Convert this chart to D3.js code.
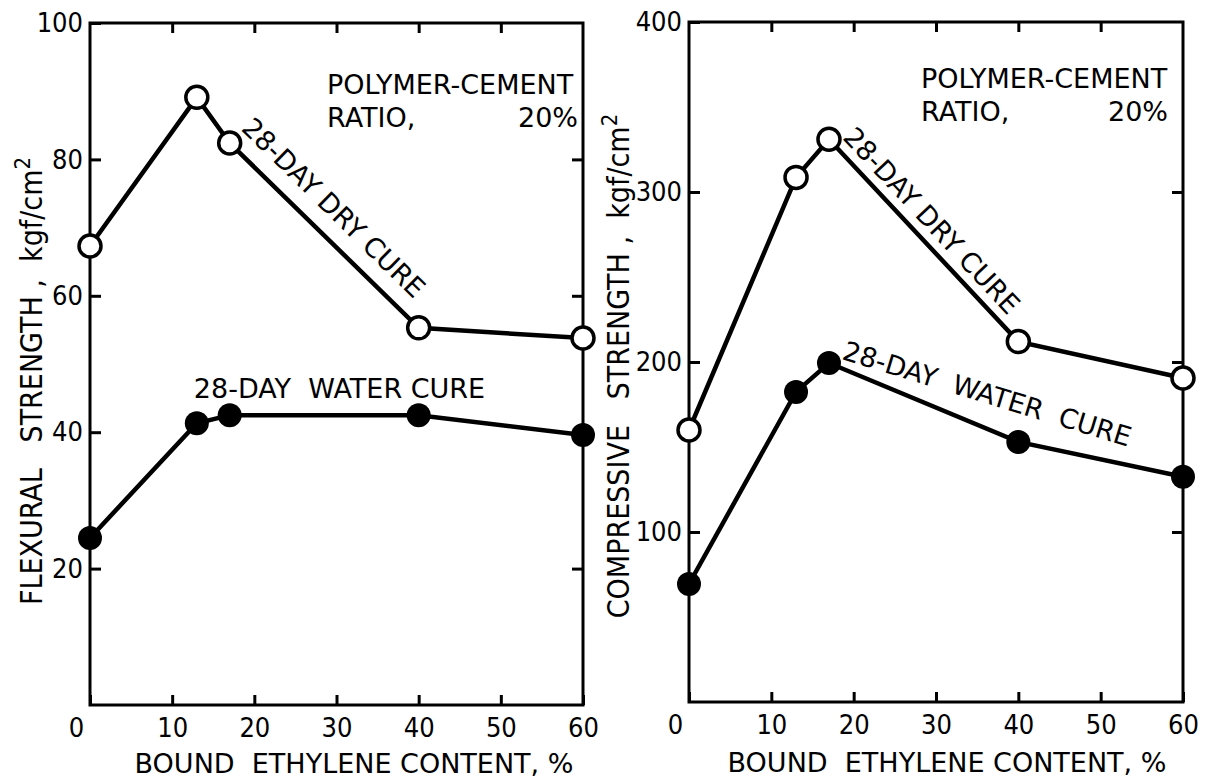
<!DOCTYPE html>
<html>
<head>
<meta charset="utf-8">
<script src="https://cdn.jsdelivr.net/npm/d3@7"></script>
<style>
  body { margin: 0; background: #fff; }
  svg { display: block; }
  text { font-family: "DejaVu Sans", sans-serif; fill: #000; }
  .tick text, .ytitle { font-family: "DejaVu Sans Condensed", "DejaVu Sans", sans-serif; font-stretch: condensed; }
</style>
</head>
<body>
<svg id="chart" width="1205" height="779"></svg>
<script>
// bound ethylene content, %
var content = [0, 13, 17, 40, 60]
// flexural strength, kgf/cm2
var flexDry = [67.3, 89.1, 82.4, 55.3, 53.8]
var flexWater = [24.5, 41.3, 42.5, 42.5, 39.6]
// compressive strength, kgf/cm2
var compDry = [160, 308.6, 331, 212, 190.6]
var compWater = [69.4, 182.4, 199.4, 153, 132.5]

var xTicks = [0, 10, 20, 30, 40, 50, 60]
var flexTicks = [20, 40, 60, 80, 100]
var compTicks = [100, 200, 300, 400]

var svg = d3.select("#chart")

function pts(xs, ys) {
  return xs.map(function(d, i) { return [d, ys[i]] })
}

function lineLabel(g, label, a, b, along, off) {
  var dx = b[0] - a[0], dy = b[1] - a[1]
  var len = Math.sqrt(dx * dx + dy * dy)
  var ux = dx / len, uy = dy / len
  var bx = a[0] + ux * along + uy * off
  var by = a[1] + uy * along - ux * off
  var ang = Math.atan2(dy, dx) * 180 / Math.PI
  g.append("text")
    .attr("transform", "translate(" + bx + "," + by + ") rotate(" + ang + ")")
    .attr("font-size", 27)
    .text(label)
}

function drawPanel(p) {
  var x = d3.scaleLinear().domain([0, 60]).range(p.xr)
  var y = d3.scaleLinear().domain([0, p.ymax]).range(p.yr)
  var g = svg.append("g")

  // frame
  g.append("rect")
    .attr("x", x(0)).attr("y", y(p.ymax))
    .attr("width", x(60) - x(0)).attr("height", y(0) - y(p.ymax))
    .attr("fill", "none").attr("stroke", "#000").attr("stroke-width", 3)

  // ticks, all pointing inward
  var bottom = g.append("g")
    .attr("transform", "translate(0," + y(0) + ")")
    .call(d3.axisBottom(x).tickValues(xTicks).tickSize(-10).tickPadding(13))
  bottom.selectAll("text").attr("font-size", 27)
    .attr("dx", function(d) { return d === 0 ? -14 : 0 })

  g.append("g")
    .attr("transform", "translate(0," + y(p.ymax) + ")")
    .call(d3.axisTop(x).tickValues(xTicks.slice(1, -1)).tickSize(-10).tickFormat(""))

  var left = g.append("g")
    .attr("transform", "translate(" + x(0) + ",0)")
    .call(d3.axisLeft(y).tickValues(p.yTicks).tickSize(-11).tickPadding(7))
  left.selectAll("text").attr("font-size", 27)

  g.append("g")
    .attr("transform", "translate(" + x(60) + ",0)")
    .call(d3.axisRight(y).tickValues(p.yTicks.slice(0, -1)).tickSize(-11).tickFormat(""))

  g.selectAll(".domain").remove()
  g.selectAll(".tick line").attr("stroke", "#000").attr("stroke-width", 3)
  g.selectAll(".tick text").attr("fill", "#000")
  g.selectAll("g").attr("font-family", null)

  var line = d3.line()
    .x(function(d) { return x(d[0]) })
    .y(function(d) { return y(d[1]) })

  var dry = pts(content, p.dry)
  var water = pts(content, p.water)

  g.append("path").datum(water).attr("d", line)
    .attr("fill", "none").attr("stroke", "#000").attr("stroke-width", 4.5)
  g.append("path").datum(dry).attr("d", line)
    .attr("fill", "none").attr("stroke", "#000").attr("stroke-width", 4.5)

  g.selectAll(".wet").data(water).enter().append("circle")
    .attr("cx", function(d) { return x(d[0]) })
    .attr("cy", function(d) { return y(d[1]) })
    .attr("r", 12).attr("fill", "#000")
  g.selectAll(".dry").data(dry).enter().append("circle")
    .attr("cx", function(d) { return x(d[0]) })
    .attr("cy", function(d) { return y(d[1]) })
    .attr("r", 11).attr("fill", "#fff").attr("stroke", "#000").attr("stroke-width", 3.5)

  // axis titles
  g.append("text")
    .attr("x", p.xTitle[0]).attr("y", p.xTitle[1])
    .attr("text-anchor", "middle").attr("font-size", 27)
    .style("white-space", "pre")
    .text("BOUND  ETHYLENE CONTENT, %")
  var yt = g.append("text")
    .attr("class", "ytitle")
    .attr("transform", "translate(" + p.yTitle[0] + "," + p.yTitle[1] + ") rotate(-90)")
    .attr("text-anchor", "middle").attr("font-size", 30)
    .style("white-space", "pre")
  yt.append("tspan").text(p.yName + " ,  kgf/cm")
  yt.append("tspan").attr("dy", -12).attr("font-size", 22).text("2")

  // note
  g.append("text").attr("x", p.note[0]).attr("y", p.note[1])
    .attr("font-size", 27).text("POLYMER-CEMENT")
  g.append("text").attr("x", p.note[0]).attr("y", p.note[1] + 33)
    .attr("font-size", 27).text("RATIO,")
  g.append("text").attr("x", p.note[2]).attr("y", p.note[1] + 33)
    .attr("text-anchor", "end").attr("font-size", 27).text("20%")

  // curve labels
  var d2 = [x(dry[2][0]), y(dry[2][1])], d3p = [x(dry[3][0]), y(dry[3][1])]
  lineLabel(g, "28-DAY DRY CURE", d2, d3p, p.dryLab[0], p.dryLab[1])
  var w2 = [x(water[2][0]), y(water[2][1])]
  if (p.waterFlat) {
    g.append("text").attr("x", x(water[1][0]) - 3).attr("y", y(water[2][1]) - 17)
      .attr("font-size", 27).style("white-space", "pre").text("28-DAY  WATER CURE")
  } else {
    g.append("text")
      .attr("transform", "translate(" + (w2[0] + 12) + "," + (w2[1] - 4) + ") rotate(17)")
      .attr("font-size", 27).style("white-space", "pre").text("28-DAY  WATER  CURE")
  }
}

drawPanel({
  xr: [90, 583], yr: [705, 23], ymax: 100, yTicks: flexTicks,
  dry: flexDry, water: flexWater,
  xTitle: [354, 773], yTitle: [42, 381], yName: "FLEXURAL   STRENGTH",
  note: [327, 94, 578], dryLab: [-2, 17], waterFlat: true
})

drawPanel({
  xr: [689, 1183], yr: [702, 22], ymax: 400, yTicks: compTicks,
  dry: compDry, water: compWater,
  xTitle: [947, 772], yTitle: [629, 366], yName: "COMPRESSIVE   STRENGTH",
  note: [921, 88, 1168], dryLab: [8, 10], waterFlat: false
})
</script>
</body>
</html>
